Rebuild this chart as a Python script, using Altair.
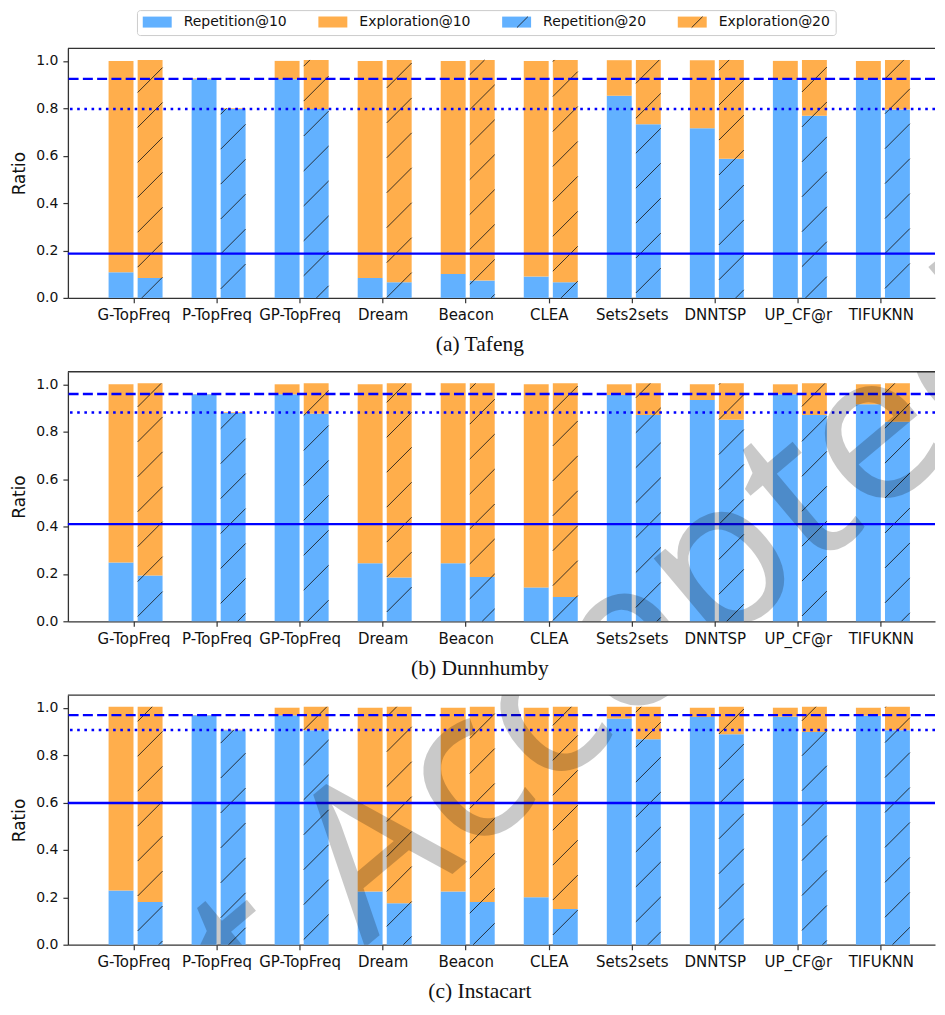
import json
import math
import altair as alt
import pandas as pd

# ---------------- data ----------------
methods = ["G-TopFreq", "P-TopFreq", "GP-TopFreq", "Dream", "Beacon",
           "CLEA", "Sets2sets", "DNNTSP", "UP_CF@r", "TIFUKNN"]
captions = ["(a) Tafeng", "(b) Dunnhumby", "(c) Instacart"]
legend_labels = ["Repetition@10", "Exploration@10", "Repetition@20", "Exploration@20"]
y_ticks = [0.0, 0.2, 0.4, 0.6, 0.8, 1.0]
watermark_words = ["Just", "Accepted"]

tafeng_rep10 = [0.108, 0.923, 0.923, 0.084, 0.101, 0.090, 0.853, 0.716, 0.920, 0.920]
tafeng_exp10 = [0.892, 0.003, 0.077, 0.916, 0.899, 0.910, 0.150, 0.287, 0.080, 0.080]
tafeng_rep20 = [0.084, 0.797, 0.797, 0.066, 0.073, 0.066, 0.733, 0.587, 0.769, 0.795]
tafeng_exp20 = [0.920, 0.003, 0.207, 0.938, 0.931, 0.938, 0.271, 0.417, 0.235, 0.209]

dunn_rep10 = [0.248, 0.958, 0.958, 0.245, 0.245, 0.143, 0.955, 0.934, 0.958, 0.916]
dunn_exp10 = [0.752, 0.001, 0.042, 0.755, 0.759, 0.857, 0.045, 0.066, 0.042, 0.084]
dunn_rep20 = [0.193, 0.879, 0.876, 0.185, 0.187, 0.103, 0.870, 0.850, 0.870, 0.842]
dunn_exp20 = [0.811, 0.003, 0.128, 0.819, 0.817, 0.901, 0.134, 0.154, 0.134, 0.162]

insta_rep10 = [0.229, 0.968, 0.968, 0.224, 0.225, 0.200, 0.954, 0.961, 0.962, 0.966]
insta_exp10 = [0.775, 0.001, 0.032, 0.776, 0.775, 0.800, 0.050, 0.039, 0.038, 0.034]
insta_rep20 = [0.180, 0.905, 0.905, 0.175, 0.180, 0.151, 0.867, 0.888, 0.898, 0.905]
insta_exp20 = [0.824, 0.002, 0.099, 0.829, 0.824, 0.853, 0.137, 0.116, 0.106, 0.099]

solid_line = [0.187, 0.410, 0.598]
dashed_line = [0.9245, 0.959, 0.969]
dotted_line = [0.797, 0.881, 0.906]

REP10 = [tafeng_rep10, dunn_rep10, insta_rep10]
EXP10 = [tafeng_exp10, dunn_exp10, insta_exp10]
REP20 = [tafeng_rep20, dunn_rep20, insta_rep20]
EXP20 = [tafeng_exp20, dunn_exp20, insta_exp20]

# ---------------- style / layout ----------------
BLUE = "#62B1FF"
ORANGE = "#FFAE4C"
LINE = "#0000FF"
SPINE = "#333333"
XMIN = -0.79
SX = 83.19            # px per category unit
OX = 67.3             # page x of plot left edge
W = 936.0 - OX        # plot reaches page x 936
XMAX = XMIN + W / SX
H = 250
YMAX = 1.053
SY = H / YMAX
SPACING = 74
CAP_OFFSET = 53.5
OY = [47.3, 47.3 + H + SPACING, 47.3 + 2 * (H + SPACING)]
HATCH_STEP = 35.0
HATCH_PHASE = 228.7   # page-space x + y of one hatch line
WM_ANCHOR = (365.0, 948.0)  # page position where the word "Accepted" starts (baseline)
WM_ANGLE = 40.0
WM_SIZE = 210
WM_SPACE = 0.26 * WM_SIZE

x_scale = alt.Scale(domain=[XMIN, XMAX], nice=False, zero=False)
y_scale = alt.Scale(domain=[0, YMAX], nice=False, zero=False)
seg_scale = alt.Scale(domain=["Repetition", "Exploration"], range=[BLUE, ORANGE])

label_expr = json.dumps(methods) + "[round(datum.value)]"

x_axis = alt.Axis(values=list(range(len(methods))), labelExpr=label_expr, title=None,
                  grid=False, tickSize=5, labelPadding=5, labelAngle=0,
                  labelOverlap=False, labelFlush=False, labelBound=False,
                  labelFontSize=15, labelFont="DejaVu Sans", labelColor="#111111",
                  domainColor=SPINE, domainWidth=1.3, tickColor=SPINE, tickWidth=1.2)
y_axis = alt.Axis(values=y_ticks, format=".1f", title="Ratio", grid=False, tickSize=5,
                  labelPadding=5, labelFontSize=14, labelFont="DejaVu Sans",
                  labelColor="#111111", domainColor=SPINE, domainWidth=1.3,
                  tickColor=SPINE, tickWidth=1.2,
                  titleFont="DejaVu Sans", titleFontSize=17,
                  titleFontWeight="normal", titleColor="#111111",
                  titleX=18.5 - OX, titleY=H / 2, titleAngle=270,
                  titleAlign="center", titleBaseline="middle")


def X(field):
    return alt.X(field, type="quantitative", scale=x_scale, axis=x_axis)


def Y(field):
    return alt.Y(field, type="quantitative", scale=y_scale, axis=y_axis)


def px_to_x(px_local):
    return XMIN + px_local / SX


def page_to_y(py, p):
    return YMAX - (py - OY[p]) / SY


def hatch(xa, xb, ubot, utop, origin_x, origin_y):
    """'/' hatch segments in local px (u measured up from y=0), clipped to a rectangle"""
    segs = []
    for k in range(-80, 80):
        c_loc = HATCH_PHASE + HATCH_STEP * k - origin_x - origin_y
        b = H - c_loc  # u = x + b
        xs = max(xa, ubot - b)
        xe = min(xb, utop - b)
        if xe - xs > 0.4:
            segs.append((xs, xs + b, xe, xe + b))
    return segs


def panel(p):
    rows, hrows = [], []
    for i, m in enumerate(methods):
        for rep, exp, (o0, o1), hatched in [
            (REP10[p][i], EXP10[p][i], (-0.3, 0.0), False),
            (REP20[p][i], EXP20[p][i], (0.05, 0.35), True),
        ]:
            rows.append(dict(x0=i + o0, x1=i + o1, y0=0.0, y1=rep, segment="Repetition"))
            rows.append(dict(x0=i + o0, x1=i + o1, y0=rep, y1=rep + exp, segment="Exploration"))
            if hatched:
                xa, xb = (i + o0 - XMIN) * SX, (i + o1 - XMIN) * SX
                for xs, us, xe, ue in hatch(xa, xb, 0.0, (rep + exp) * SY, OX, OY[p]):
                    hrows.append(dict(x0=px_to_x(xs), y0=us / SY, x1=px_to_x(xe), y1=ue / SY))
    df = pd.DataFrame(rows)
    hdf = pd.DataFrame(hrows)

    bars = alt.Chart(df).mark_bar(strokeWidth=0).encode(
        x=X("x0"), x2="x1", y=Y("y0"), y2="y1",
        color=alt.Color("segment:N", scale=seg_scale, legend=None),
    )

    hatch_layer = alt.Chart(hdf).mark_rule(color="#1a1a1a", strokeWidth=1.0, opacity=0.85).encode(
        x=X("x0"), y=Y("y0"), x2="x1", y2="y1")

    def hline(val, dash):
        kw = dict(color=LINE, strokeWidth=2.3)
        if dash:
            kw["strokeDash"] = dash
        return alt.Chart(pd.DataFrame({"y0": [val]})).mark_rule(**kw).encode(y=Y("y0"))

    lines = [hline(solid_line[p], None), hline(dashed_line[p], [10, 4.3]),
             hline(dotted_line[p], [2.6, 4.6])]

    top_spine = alt.Chart(pd.DataFrame({"y0": [YMAX]})).mark_rule(
        color=SPINE, strokeWidth=1.3).encode(y=Y("y0"))

    cap = alt.Chart(pd.DataFrame({"cap": [captions[p]]})).mark_text(
        font="Liberation Serif", fontSize=21.5, align="center", baseline="alphabetic",
        color="#111111").encode(
        text="cap:N", x=alt.value(480 - OX), y=alt.value(H + CAP_OFFSET))

    layers = [bars, hatch_layer] + lines + [top_spine, cap]

    if p == 0:
        # legend built from the label list, placed above the first panel
        box_l, box_r, box_t, box_b = 137.0, 837.0, 9.5, 34.5
        pt, pb = 15.5, 26.5
        px = 142.3
        lrows, lhrows = [], []
        for lab in legend_labels:
            seg = lab.split("@")[0]
            lrows.append(dict(label=lab, segment=seg,
                              x0=px_to_x(px - OX), x1=px_to_x(px + 29 - OX),
                              y0=page_to_y(pb, 0), y1=page_to_y(pt, 0),
                              tx=px_to_x(px + 41 - OX), ty=page_to_y((pt + pb) / 2, 0)))
            if lab.endswith("20"):
                xa, xb = px - OX, px + 29 - OX
                ub, ut = (OY[0] + H - pb), (OY[0] + H - pt)
                for xs, us, xe, ue in hatch(xa, xb, ub, ut, OX, OY[0]):
                    lhrows.append(dict(x0=px_to_x(xs), y0=us / SY, x1=px_to_x(xe), y1=ue / SY))
            px += 29 + 12 + 8.15 * len(lab) + 29
        ldf = pd.DataFrame(lrows)
        box = alt.Chart(pd.DataFrame({"x0": [px_to_x(box_l - OX)], "x1": [px_to_x(box_r - OX)],
                                      "y0": [page_to_y(box_b, 0)], "y1": [page_to_y(box_t, 0)]})
                        ).mark_rect(fill="white", stroke="#cccccc", strokeWidth=1, cornerRadius=3).encode(
            x=X("x0"), x2="x1", y=Y("y0"), y2="y1")
        patches = alt.Chart(ldf).mark_rect(strokeWidth=0).encode(
            x=X("x0"), x2="x1", y=Y("y0"), y2="y1",
            color=alt.Color("segment:N", scale=seg_scale, legend=None))
        lhatch = alt.Chart(pd.DataFrame(lhrows)).mark_rule(
            color="#1a1a1a", strokeWidth=1.0, opacity=0.85).encode(
            x=X("x0"), y=Y("y0"), x2="x1", y2="y1")
        ltext = alt.Chart(ldf).mark_text(font="DejaVu Sans", fontSize=14, align="left",
                                         baseline="middle", color="#111111").encode(
            x=X("tx"), y=Y("ty"), text="label:N")
        layers += [box, patches, lhatch, ltext]

    # watermark ("Just" ends a space before where "Accepted" starts), clipped to the plot area
    ux, uy = math.cos(math.radians(WM_ANGLE)), -math.sin(math.radians(WM_ANGLE))
    ax, ay = WM_ANCHOR
    for word, (wx, wy), align in [
        (watermark_words[0], (ax - WM_SPACE * ux, ay - WM_SPACE * uy), "right"),
        (watermark_words[1], (ax, ay), "left"),
    ]:
        layers.append(alt.Chart(pd.DataFrame({"t": [word]})).mark_text(
            font="Noto Sans", fontSize=WM_SIZE, angle=360 - WM_ANGLE, align=align,
            baseline="alphabetic", color="black", opacity=0.21, clip=True).encode(
            text="t:N", x=alt.value(wx - OX), y=alt.value(wy - OY[p])))

    return alt.layer(*layers).properties(width=W, height=H)


chart = alt.vconcat(panel(0), panel(1), panel(2), spacing=SPACING, bounds="flush").properties(
    padding={"left": 2, "top": 0.5, "right": 0, "bottom": 0},
).configure_view(strokeWidth=0)

chart.save("out.html", embed_options={"renderer": "svg", "actions": False})
